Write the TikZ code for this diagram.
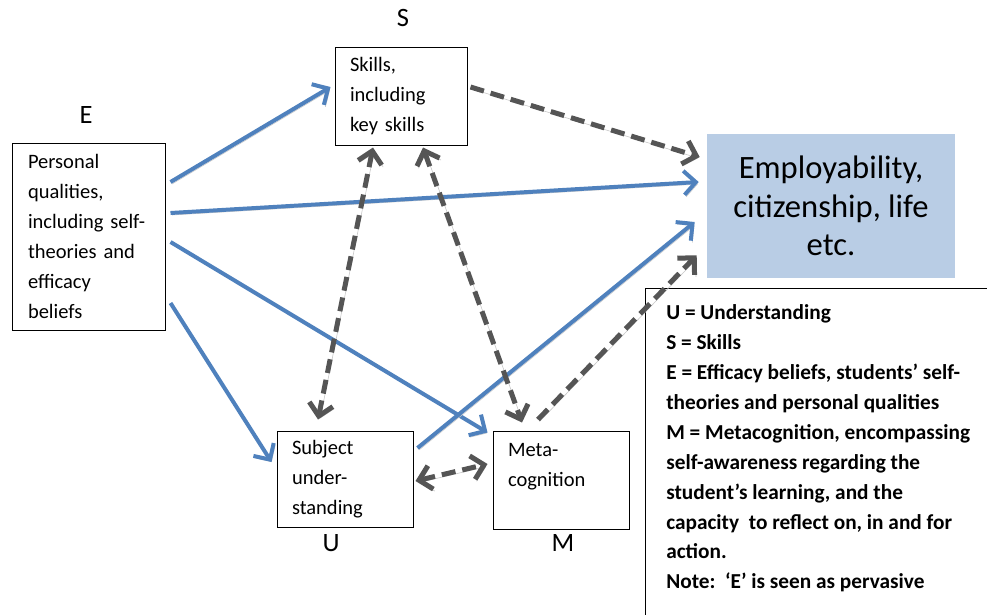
\documentclass[tikz,border=0pt]{standalone}
\usepackage{fontspec}
\setmainfont{Carlito}
\usetikzlibrary{arrows.meta}
\definecolor{empblue}{RGB}{185,205,229}
\definecolor{linkblue}{RGB}{79,129,189}
\definecolor{linkgray}{RGB}{85,85,85}

\begin{document}
\begin{tikzpicture}[x=1pt,y=-1pt,>={Straight Barb[length=12pt,width=24pt]},semithick]
\tikzstyle{box}=[draw=black,line width=1pt,align=left,inner xsep=15pt,inner ysep=0pt,font=\fontsize{20.5}{30}\selectfont]
\tikzstyle{letter}=[font=\fontsize{26.5}{32}\selectfont]
\tikzstyle{goal}=[fill=empblue,align=center,minimum width=248pt,minimum height=144pt,font=\fontsize{32.6}{38.5}\selectfont]
\tikzstyle{keytext}=[align=left,inner sep=0pt,font=\bfseries\fontsize{21.3}{29.9}\selectfont]
\tikzstyle{shade}=[preaction={draw=black!22,transform canvas={shift={(1.5pt,-2pt)}}}]
\tikzstyle{solidlink}=[->,draw=linkblue,line width=4pt,shade]
\tikzstyle{dashlink}=[draw=linkgray,line width=5pt,dash pattern=on 14pt off 7pt,shade]
\clip (0,0) rectangle (987,614);

\node[box,text width=121pt,inner xsep=16pt,minimum height=187pt] (ebox) at (88.5,236.5) {Personal\\ qualities,\\ including~self-\\ theories and\\ efficacy\\ beliefs};
\node[box,text width=102pt,minimum height=98pt] (sbox) at (401,96) {Skills,\\ including\\ key~skills};
\node[box,text width=106pt,minimum height=96pt] (ubox) at (345,479) {Subject\\ under-\\ standing};
\node[box,text width=106pt,minimum height=98pt] (mbox) at (561,480) {Meta-\\ cognition\\ \mbox{}};
\node[goal] (emp) at (831,206) {Employability,\\ citizenship, life\\ etc.};

\node[letter] (slabel) at (403,18) {S};
\node[letter] (elabel) at (86,115) {E};
\node[letter] (ulabel) at (331,543) {U};
\node[letter] (mlabel) at (563,543) {M};

% key to the letters
\draw[line width=1pt] (645,288) rectangle (1000,640);
\node[keytext,anchor=north west] (key) at (666,304.5) {U = Understanding\\ S = Skills\\ E = Efficacy beliefs, students’ self-\\ theories and personal qualities\\ M = Metacognition, encompassing\\ self-awareness regarding the\\ student’s learning, and the\\ capacity\ \ to reflect on, in and for\\ action.\\ Note:\ \ ‘E’ is seen as pervasive};

\path ([xshift=5pt,yshift=54.5pt]ebox.east) edge[solidlink] ([xshift=-4pt,yshift=9pt]sbox.west)
      ([xshift=5pt,yshift=23.5pt]ebox.east) edge[solidlink] ([xshift=-8pt,yshift=24pt]emp.west)
      ([xshift=5pt,yshift=-5.5pt]ebox.east) edge[solidlink] ([xshift=-5pt,yshift=-2pt]mbox.north west)
      ([xshift=5pt,yshift=-66.5pt]ebox.east) edge[solidlink] ([xshift=-5pt,yshift=17pt]ubox.west)
      ([xshift=4pt,yshift=31pt]ubox.east) edge[solidlink] ([xshift=-12pt,yshift=-16pt]emp.west);
\path ([xshift=3pt,yshift=9pt]sbox.east) edge[dashlink,->] ([xshift=-7pt,yshift=49pt]emp.west)
      ([xshift=-28pt,yshift=-2pt]sbox.south) edge[dashlink,<->] ([xshift=-27pt,yshift=11pt]ubox.north)
      ([xshift=22pt,yshift=-2pt]sbox.south) edge[dashlink,<->] ([xshift=-39pt,yshift=8pt]mbox.north)
      ([xshift=-23pt,yshift=11pt]mbox.north) edge[dashlink,->] ([xshift=-10pt,yshift=23pt]emp.south west)
      ([xshift=2pt,yshift=-2pt]ubox.east) edge[dashlink,<->] ([xshift=-5pt,yshift=16pt]mbox.west);
\end{tikzpicture}
\end{document}
